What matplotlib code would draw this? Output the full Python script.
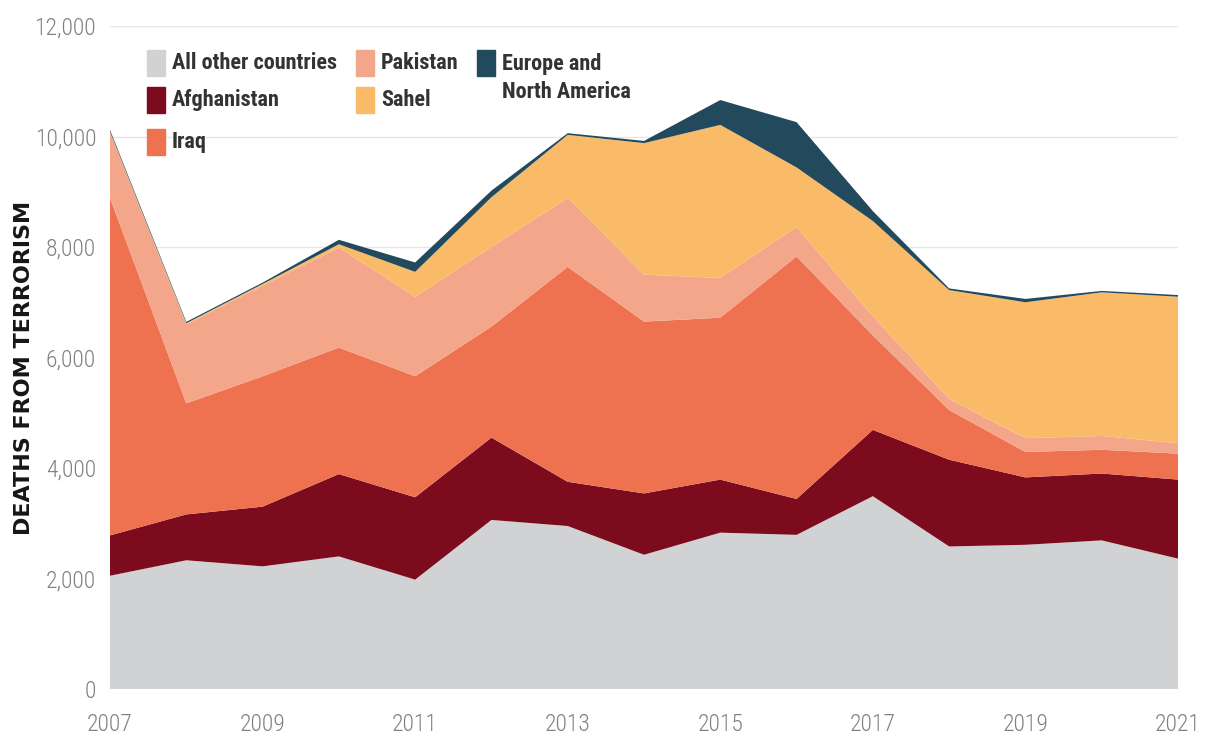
import numpy as np
import matplotlib.pyplot as plt
from matplotlib.patches import Rectangle

years = list(range(2007, 2022))
all_other = [2050, 2330, 2220, 2400, 1980, 3060, 2950, 2430, 2830, 2790, 3490, 2580, 2610, 2690, 2360]
afghanistan = [730, 830, 1080, 1490, 1490, 1490, 800, 1110, 960, 650, 1200, 1570, 1220, 1210, 1430]
iraq = [6110, 2010, 2360, 2290, 2190, 2010, 3890, 3110, 2930, 4390, 1710, 900, 460, 430, 470]
pakistan = [1190, 1430, 1640, 1810, 1440, 1440, 1250, 850, 720, 530, 350, 200, 250, 250, 190]
sahel = [10, 20, 30, 60, 450, 900, 1140, 2380, 2770, 1080, 1720, 1970, 2460, 2600, 2650]
europe_na = [30, 25, 25, 80, 170, 120, 30, 40, 450, 820, 180, 30, 60, 25, 30]

labels = ["All other countries", "Afghanistan", "Iraq", "Pakistan", "Sahel",
          "Europe and\nNorth America"]
colors = ["#d0d2d3", "#7b0b1d", "#ee7150", "#f4a68b", "#f9bb68", "#23495d"]

cond = ["Roboto Condensed", "Archivo Narrow", "Asap Condensed", "DejaVu Sans"]

W, H = 1205, 744
fig = plt.figure(figsize=(W / 100, H / 100), dpi=100)
ax = fig.add_axes([110 / W, 1 - 689 / H, (1178 - 110) / W, (689 - 26) / H])

ax.stackplot(years, all_other, afghanistan, iraq, pakistan, sahel, europe_na,
             colors=colors, linewidth=0, zorder=2)

ax.set_xlim(2007, 2021)
ax.set_ylim(0, 12000)
ax.set_yticks(range(0, 12001, 2000))
ax.set_xticks(range(2007, 2022, 2))
ax.yaxis.grid(True, color="#e6e6e6", linewidth=1, zorder=0)
ax.set_axisbelow(True)
for s in ax.spines.values():
    s.set_visible(False)
ax.tick_params(length=0, labelsize=17, labelcolor="#808080", pad=10)
ax.set_yticklabels([f"{v:,}" for v in range(0, 12001, 2000)],
                   family=cond, fontweight="light")
ax.set_xticklabels([str(y) for y in range(2007, 2022, 2)],
                   family=cond, fontweight="light")
ax.tick_params(axis="x", pad=17)

fig.text(24 / W, 1 - 368 / H, "DEATHS FROM TERRORISM", rotation=90,
         ha="center", va="center", fontsize=16, fontweight="bold",
         color="#161616", family=["DejaVu Sans"])

# legend drawn by hand (3 columns, uneven rows)
legend_pos = [(147, 63), (147, 100), (147, 142), (356, 63), (356, 100), (477, 63)]
for (px, py), lab, c in zip(legend_pos, labels, colors):
    fig.patches.append(Rectangle((px / W, 1 - (py + 13) / H), 18 / W, 26 / H,
                                 transform=fig.transFigure, color=c))
    if "\n" in lab:
        fig.text((px + 25) / W, 1 - (py + 15) / H, lab, ha="left", va="center",
                 fontsize=16, fontweight="bold", color="#333333",
                 linespacing=1.35, family=cond)
    else:
        fig.text((px + 25) / W, 1 - py / H, lab, ha="left", va="center",
                 fontsize=16, fontweight="bold", color="#333333",
                 family=cond)

fig.savefig("out.png", dpi=100)
